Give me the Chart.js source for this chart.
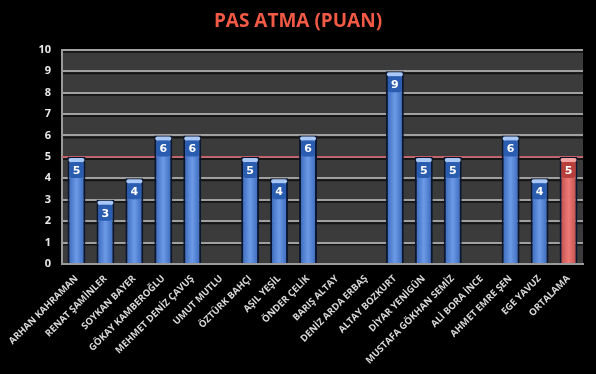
<!DOCTYPE html>
<html>
<head>
<meta charset="utf-8">
<script src="https://cdn.jsdelivr.net/npm/chart.js@4"></script>
<style>
  html, body { margin: 0; padding: 0; background: #000; }
  #wrap { width: 596px; height: 374px; }
</style>
</head>
<body>
<div id="wrap"><canvas id="c"></canvas></div>
<script>
const players = [
  "ARHAN KAHRAMAN", "RENAT ŞAMİNLER", "SOYKAN BAYER", "GÖKAY KAMBEROĞLU",
  "MEHMET DENİZ ÇAVUŞ", "UMUT MUTLU", "ÖZTÜRK BAHÇI", "AŞIL YEŞİL",
  "ÖNDER ÇELİK", "BARIŞ ALTAY", "DENİZ ARDA ERBAŞ", "ALTAY BOZKURT",
  "DİYAR YENİGÜN", "MUSTAFA GÖKHAN SEMİZ", "ALİ BORA İNCE", "AHMET EMRE ŞEN",
  "EGE YAVUZ", "ORTALAMA"
];
const scores = [5, 3, 4, 6, 6, null, 5, 4, 6, null, null, 9, 5, 5, null, 6, 4, 5];
const averageIndex = 17;
const averageValue = 5;
const yTicks = [0, 1, 2, 3, 4, 5, 6, 7, 8, 9, 10];

const plotBg = {
  id: 'plotBg',
  beforeDraw(chart) {
    const { ctx, chartArea: a } = chart;
    ctx.save();
    ctx.fillStyle = '#3b3b3b';
    ctx.fillRect(a.left, a.top, a.width, a.height);
    // dark shadow under each grid line
    const y = chart.scales.y;
    ctx.strokeStyle = '#151515';
    ctx.lineWidth = 2;
    yTicks.forEach(v => {
      if (v === 0) return;
      const py = y.getPixelForValue(v) + 2;
      ctx.beginPath();
      ctx.moveTo(a.left, py);
      ctx.lineTo(a.right, py);
      ctx.stroke();
    });
    ctx.restore();
  }
};

const avgLine = {
  id: 'avgLine',
  beforeDatasetsDraw(chart) {
    const { ctx, chartArea: a } = chart;
    const py = chart.scales.y.getPixelForValue(averageValue);
    ctx.save();
    ctx.strokeStyle = '#d2454f';
    ctx.lineWidth = 1.2;
    ctx.beginPath();
    ctx.moveTo(a.left, py);
    ctx.lineTo(a.right, py);
    ctx.stroke();
    ctx.restore();
  }
};

function roundRect(ctx, x, y, w, h, r) {
  ctx.beginPath();
  ctx.moveTo(x + r, y);
  ctx.lineTo(x + w - r, y);
  ctx.quadraticCurveTo(x + w, y, x + w, y + r);
  ctx.lineTo(x + w, y + h - r);
  ctx.quadraticCurveTo(x + w, y + h, x + w - r, y + h);
  ctx.lineTo(x + r, y + h);
  ctx.quadraticCurveTo(x, y + h, x, y + h - r);
  ctx.lineTo(x, y + r);
  ctx.quadraticCurveTo(x, y, x + r, y);
  ctx.closePath();
}

const valueLabels = {
  id: 'valueLabels',
  afterDraw(chart) {
    const { ctx } = chart;
    const meta = chart.getDatasetMeta(0);
    ctx.save();
    ctx.font = 'bold 11px "DejaVu Sans", sans-serif';
    ctx.textAlign = 'center';
    ctx.textBaseline = 'middle';
    meta.data.forEach((bar, i) => {
      const v = scores[i];
      if (v === null) return;
      const cx = bar.x;
      const top = bar.y;
      // light cap at the top of the bar
      ctx.fillStyle = i === averageIndex ? '#f5a3a0' : '#a9c8f5';
      roundRect(ctx, cx - 8, top + 1, 16, 4, 2);
      ctx.fill();
      ctx.fillStyle = i === averageIndex ? '#b8403c' : '#2a5cb0';
      roundRect(ctx, cx - 7, top + 5, 14, 16, 3);
      ctx.fill();
      ctx.fillStyle = '#ffffff';
      ctx.fillText(String(v), cx, top + 14);
    });
    ctx.restore();
  }
};

function barFill(context) {
  const chart = context.chart;
  const i = context.dataIndex;
  const plain = i === averageIndex ? '#d45f5b' : '#4f81d4';
  const cx = chart.scales.x ? chart.scales.x.getPixelForValue(i) : NaN;
  if (!isFinite(cx)) return plain;
  const g = chart.ctx.createLinearGradient(cx - 9, 0, cx + 9, 0);
  if (i === averageIndex) {
    g.addColorStop(0, '#b94a48');
    g.addColorStop(0.5, '#ee7a76');
    g.addColorStop(1, '#b94a48');
  } else {
    g.addColorStop(0, '#3564b8');
    g.addColorStop(0.5, '#6c9ae6');
    g.addColorStop(1, '#3564b8');
  }
  return g;
}

new Chart(document.getElementById('c').getContext('2d'), {
  type: 'bar',
  data: {
    labels: players,
    datasets: [{
      data: scores,
      backgroundColor: barFill,
      borderColor: '#0b1730',
      borderWidth: 2,
      borderSkipped: 'bottom',
      categoryPercentage: 1,
      barPercentage: 0.62
    }]
  },
  plugins: [plotBg, avgLine, valueLabels],
  options: {
    responsive: true,
    maintainAspectRatio: false,
    animation: false,
    layout: { padding: { left: 13, right: 13, top: 6, bottom: 0 } },
    plugins: {
      legend: { display: false },
      tooltip: { enabled: false },
      title: {
        display: true,
        text: 'PAS ATMA (PUAN)',
        color: '#f25a45',
        font: { size: 19, weight: 'bold', family: '"Open Sans", sans-serif' },
        padding: { top: 4, bottom: 17 }
      }
    },
    scales: {
      x: {
        grid: { display: false },
        border: { display: true, color: '#9a9a9a', width: 2 },
        afterFit: s => { s.height = 110; },
        ticks: {
          color: '#d8d8d8',
          font: { size: 9.5, weight: 'bold', family: '"Open Sans", sans-serif' },
          minRotation: 45,
          maxRotation: 45,
          autoSkip: false,
          padding: 1
        }
      },
      y: {
        min: 0,
        max: 10,
        afterBuildTicks: axis => { axis.ticks = yTicks.map(v => ({ value: v })); },
        afterFit: s => { s.width = 49; },
        grid: { color: '#a0a0a0', lineWidth: 2, drawTicks: false },
        border: { display: true, color: '#9a9a9a', width: 2 },
        ticks: {
          color: '#e8e8e8',
          font: { size: 11, weight: 'bold', family: '"Open Sans", sans-serif' },
          padding: 11
        }
      }
    }
  }
});
</script>
</body>
</html>
